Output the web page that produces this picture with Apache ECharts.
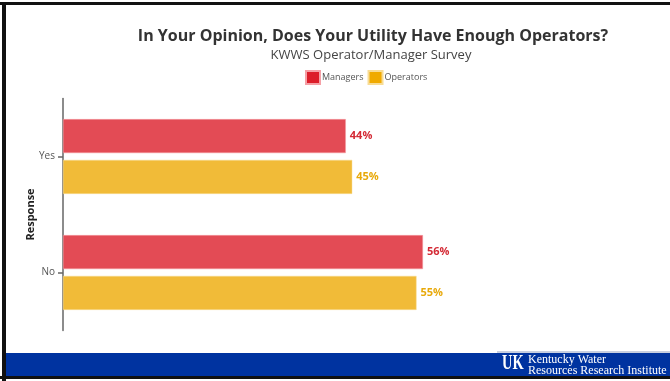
<!DOCTYPE html>
<html><head><meta charset="utf-8">
<script src="https://cdn.jsdelivr.net/npm/echarts@6/dist/echarts.min.js"></script>
<style>html,body{margin:0;padding:0;background:#fff}#c{width:670px;height:381px}</style>
</head><body><div id="c"></div>
<script>
const categories = ['Yes', 'No'];
const managers = [44, 56];
const operators = [45, 55];
const seriesNames = ['Managers', 'Operators'];

const chart = echarts.init(document.getElementById('c'), null, {renderer: 'canvas'});
const font = 'Open Sans';
const option = {
  animation: false,
  backgroundColor: '#ffffff',
  title: [
    {text: 'In Your Opinion, Does Your Utility Have Enough Operators?', left: 368, top: 23, textAlign: 'center',
     textStyle: {fontFamily: font, fontWeight: 'bold', fontSize: 16, color: '#333'}},
    {text: 'KWWS Operator/Manager Survey', left: 366, top: 44, textAlign: 'center',
     textStyle: {fontFamily: font, fontWeight: 'normal', fontSize: 13, color: '#444'}}
  ],
  legend: {
    left: 305, top: 70, padding: 0, itemWidth: 14, itemHeight: 13, itemGap: 4, icon: 'rect',
    textStyle: {fontFamily: font, fontSize: 9, color: '#555', padding: [0, 0, 0, -3]},
    data: [
      {name: 'Managers', itemStyle: {color: '#DC1E2A'}},
      {name: 'Operators', itemStyle: {color: '#F0AA00'}}
    ]
  },
  grid: {left: 63, top: 98.5, width: 578.5, height: 232},
  xAxis: {type: 'value', min: 0, max: 90, show: false},
  yAxis: {
    type: 'category', data: categories, inverse: true,
    name: 'Response', nameLocation: 'middle', nameRotate: 90, nameGap: 27, nameMoveOverlap: false,
    nameTextStyle: {fontFamily: font, fontWeight: 'bold', fontSize: 11, color: '#222'},
    axisLine: {lineStyle: {color: '#666', width: 1.5}},
    axisTick: {show: true, alignWithLabel: true, length: 5, lineStyle: {color: '#666', width: 1.5}},
    axisLabel: {fontFamily: font, fontSize: 10, color: '#555', margin: 8}
  },
  series: [
    {name: seriesNames[0], type: 'bar', data: managers, barWidth: 34, barGap: '20%',
     itemStyle: {color: '#E34B55', borderColor: '#f5a0a6', borderWidth: 0.5},
     label: {show: true, position: 'right', distance: 4, formatter: p => p.value + '%',
       fontFamily: font, fontWeight: 'bold', fontSize: 11, color: '#D42A35'}},
    {name: seriesNames[1], type: 'bar', data: operators, barWidth: 34,
     itemStyle: {color: '#F1BB38', borderColor: '#f8dc95', borderWidth: 0.5},
     label: {show: true, position: 'right', distance: 4, formatter: p => p.value + '%',
       fontFamily: font, fontWeight: 'bold', fontSize: 11, color: '#E8A90A'}}
  ],
  graphic: [
    {type: 'rect', shape: {x: 0, y: 2, width: 670, height: 3}, style: {fill: '#111'}, silent: true},
    {type: 'rect', shape: {x: 2, y: 2, width: 4, height: 379}, style: {fill: '#111'}, silent: true},
    {type: 'rect', shape: {x: 6, y: 353, width: 664, height: 23}, style: {fill: '#0033A0'}, silent: true},
    {type: 'rect', shape: {x: 497, y: 351, width: 173, height: 2}, style: {fill: '#c8cfe0'}, silent: true},
    {type: 'rect', shape: {x: 0, y: 376, width: 670, height: 3}, style: {fill: '#111'}, silent: true},
    {type: 'text', x: 502, y: 354, scaleX: 0.72, style: {text: 'UK', fill: '#fff', font: 'bold 20px "Liberation Serif", serif'}, silent: true},
    {type: 'text', x: 528, y: 353.5, style: {text: 'Kentucky Water', fill: '#fff', font: '12px "Liberation Serif", serif'}, silent: true},
    {type: 'text', x: 528, y: 364.5, style: {text: 'Resources Research Institute', fill: '#fff', font: '12px "Liberation Serif", serif'}, silent: true}
  ]
};
chart.setOption(option);
</script></body></html>
